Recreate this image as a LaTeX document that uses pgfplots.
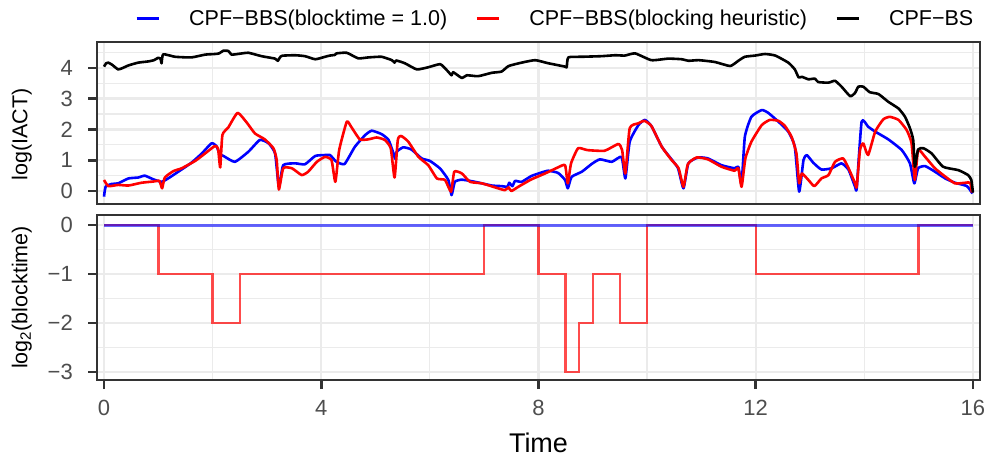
\documentclass[border=0pt]{standalone}
\usepackage{fontspec}
\setmainfont{Liberation Sans}
\usepackage{pgfplots}
\pgfplotsset{compat=1.18}

\definecolor{gridgrey}{HTML}{EBEBEB}
\definecolor{framegrey}{HTML}{333333}
\definecolor{ticktext}{HTML}{4D4D4D}

\newcommand\tickfont{\fontsize{22bp}{26bp}\selectfont}
\newcommand\labelfont{\fontsize{21.5bp}{26bp}\selectfont}
\newcommand\legendfont{\fontsize{21.5bp}{26bp}\selectfont}
\newcommand\timefont{\fontsize{27bp}{32bp}\selectfont}

\pgfplotsset{
  panel/.style={
    scale only axis,
    width=883bp,
    xmin=-0.129, xmax=16.13,
    xtick={0,4,8,12,16},
    minor xtick={2,6,10,14},
    tick pos=left,
    grid=both,
    major grid style={gridgrey, line width=2.4bp},
    minor grid style={gridgrey, line width=1.2bp},
    axis line style={framegrey, line width=1.8bp},
    tick align=outside,
    major tick length=9bp,
    minor tick length=0pt,
    every major tick/.append style={framegrey, line width=2.6bp},
    tick label style={font=\tickfont, text=ticktext, inner sep=0pt},
    yticklabel style={anchor=east, xshift=-15bp},
    xticklabel style={anchor=north, yshift=-11bp},
    /pgf/number format/assume math mode=true,
    ylabel style={font=\labelfont, anchor=center},
    curve/.style={line width=2.6bp, line join=round, smooth, tension=0.3},
  },
}

\begin{document}
\begin{tikzpicture}
\useasboundingbox (0bp,0bp) rectangle (987bp,-457bp);

% upper panel: integrated autocorrelation times
\begin{axis}[panel,
  at={(97bp,-204bp)}, anchor=south west,
  height=162bp,
  ymin=-0.42, ymax=4.84,
  ytick={0,1,2,3,4},
  minor ytick={0.5,1.5,2.5,3.5,4.5},
  xmajorticks=false,
  ylabel={log(IACT)},
  ylabel style={at={(axis description cs:-0.085,0.43)}},
  legend columns=3,
  legend style={draw=none, fill=none, font=\legendfont, inner sep=0pt,
    at={(axis description cs:0.043,1)}, anchor=south west, yshift=15bp,
    nodes={inner sep=0pt},
    /tikz/every odd column/.append style={column sep=29bp},
    /tikz/every even column/.append style={column sep=28bp}},
  legend image code/.code={\draw[#1, line width=3bp] (0bp,0bp) -- (22bp,0bp);},
]
\addplot[blue, curve] coordinates {
(0,-0.18)(0.03,0.14)(0.14,0.23)(0.26,0.25)(0.45,0.41)(0.63,0.44)(0.75,0.50)
(0.91,0.38)(1.06,0.30)(1.18,0.41)(1.37,0.63)(1.61,0.92)(1.80,1.22)(1.98,1.55)
(2.07,1.46)(2.13,1.20)(2.20,1.14)(2.41,0.95)(2.66,1.28)(2.87,1.66)(3.03,1.55)
(3.15,1.22)(3.22,0.14)(3.30,0.84)(3.52,0.90)(3.70,0.87)(3.89,1.14)(4.07,1.17)
(4.16,1.17)(4.22,1.06)(4.28,0.95)(4.43,0.88)(4.62,1.44)(4.81,1.82)(4.93,1.96)
(5.11,1.85)(5.24,1.66)(5.33,1.22)(5.36,1.05)(5.39,1.28)(5.51,1.42)(5.66,1.35)
(5.85,1.06)(6.00,0.98)(6.19,0.73)(6.34,0.36)(6.40,-0.13)(6.46,0.30)(6.59,0.37)
(6.83,0.30)(7.14,0.18)(7.32,0.16)(7.43,0.14)(7.46,0.27)(7.52,0.16)(7.57,0.33)
(7.69,0.30)(7.87,0.49)(8.05,0.60)(8.18,0.66)(8.36,0.59)(8.49,0.36)(8.54,0.09)
(8.61,0.46)(8.80,0.63)(8.98,0.88)(9.13,1.03)(9.35,0.95)(9.53,1.11)(9.60,0.41)
(9.68,1.60)(9.84,2.14)(9.96,2.31)(10.08,2.11)(10.27,1.44)(10.45,1.03)(10.57,0.74)
(10.67,0.09)(10.76,0.90)(10.94,1.09)(11.12,1.06)(11.37,0.84)(11.61,0.74)(11.68,0.79)
(11.74,0.25)(11.80,1.76)(11.92,2.41)(12.11,2.63)(12.23,2.54)(12.42,2.25)(12.60,1.93)
(12.72,1.44)(12.80,-0.02)(12.88,1.01)(12.94,1.17)(13.06,0.92)(13.21,0.70)(13.40,0.74)
(13.58,0.90)(13.71,0.69)(13.83,0.14)(13.86,0.09)(13.95,2.25)(14.07,2.09)(14.20,1.93)
(14.44,1.68)(14.69,1.33)(14.84,0.90)(14.92,0.25)(14.99,0.74)(15.12,0.81)(15.30,0.63)
(15.49,0.41)(15.67,0.27)(15.89,0.16)(15.99,-0.08)
};
\addlegendentry{CPF−BBS(blocktime = 1.0)}
\addplot[red, curve] coordinates {
(0,0.36)(0.08,0.16)(0.26,0.20)(0.45,0.18)(0.69,0.27)(0.91,0.31)(1.02,0.33)
(1.07,0.09)(1.12,0.44)(1.28,0.65)(1.43,0.74)(1.68,0.98)(1.86,1.22)(2.04,1.46)
(2.10,1.38)(2.14,0.77)(2.18,1.82)(2.29,2.07)(2.46,2.54)(2.63,2.22)(2.78,1.87)
(2.96,1.68)(3.12,1.39)(3.18,1.00)(3.22,0.05)(3.30,0.74)(3.46,0.74)(3.64,0.52)
(3.76,0.63)(3.92,0.95)(4.07,1.11)(4.19,1.00)(4.26,0.30)(4.33,1.33)(4.47,2.25)
(4.55,2.09)(4.71,1.68)(4.87,1.68)(5.02,1.74)(5.17,1.66)(5.28,1.39)(5.35,0.44)
(5.41,1.66)(5.47,1.79)(5.60,1.61)(5.79,1.11)(5.97,0.84)(6.13,0.41)(6.28,0.36)
(6.39,-0.02)(6.45,0.63)(6.59,0.57)(6.74,0.30)(6.96,0.25)(7.20,0.12)(7.38,0.03)
(7.45,0.12)(7.50,0.00)(7.63,0.14)(7.87,0.38)(8.12,0.57)(8.36,0.77)(8.49,0.84)
(8.54,0.25)(8.60,0.90)(8.73,1.39)(8.90,1.33)(9.22,1.31)(9.47,1.53)(9.54,1.33)
(9.60,0.57)(9.68,2.04)(9.84,2.20)(9.95,2.28)(10.08,2.11)(10.27,1.44)(10.45,1.01)
(10.58,0.74)(10.67,0.14)(10.75,0.87)(10.91,1.09)(11.12,1.03)(11.37,0.79)(11.61,0.66)
(11.68,0.74)(11.74,0.14)(11.81,1.06)(11.92,1.60)(12.11,2.14)(12.26,2.31)(12.42,2.28)
(12.54,2.11)(12.66,1.76)(12.75,1.22)(12.80,0.25)(12.85,0.57)(12.97,0.36)(13.08,0.16)
(13.21,0.41)(13.34,0.52)(13.46,0.95)(13.61,1.06)(13.71,0.74)(13.83,0.25)(13.86,0.14)
(13.92,1.33)(13.98,1.55)(14.07,1.17)(14.20,1.93)(14.35,2.33)(14.47,2.41)(14.63,2.31)
(14.78,1.98)(14.87,1.55)(14.93,0.36)(14.99,1.33)(15.12,1.11)(15.30,0.74)(15.49,0.47)
(15.67,0.25)(15.86,0.27)(15.95,0.27)(15.98,-0.05)
};
\addlegendentry{CPF−BBS(blocking heuristic)}
\addplot[black, curve] coordinates {
(0,4.04)(0.04,4.15)(0.08,4.17)(0.15,4.10)(0.26,3.95)(0.35,4.00)(0.45,4.08)
(0.63,4.17)(0.82,4.21)(0.92,4.25)(1.00,4.33)(1.04,4.30)(1.06,4.15)(1.09,4.44)
(1.31,4.36)(1.61,4.34)(1.86,4.43)(2.04,4.45)(2.12,4.47)(2.20,4.56)(2.29,4.55)
(2.35,4.43)(2.50,4.46)(2.66,4.49)(2.90,4.38)(3.15,4.30)(3.20,4.23)(3.27,4.39)
(3.52,4.41)(3.70,4.38)(3.89,4.28)(4.07,4.36)(4.16,4.40)(4.25,4.42)(4.28,4.47)
(4.47,4.49)(4.68,4.31)(4.87,4.34)(5.11,4.36)(5.30,4.25)(5.35,4.17)(5.38,4.24)
(5.54,4.15)(5.76,3.95)(5.97,4.02)(6.19,4.12)(6.31,3.93)(6.40,3.76)(6.43,3.86)
(6.59,3.67)(6.68,3.76)(6.89,3.73)(7.14,3.84)(7.32,3.88)(7.45,4.06)(7.69,4.17)
(7.94,4.25)(8.18,4.15)(8.49,4.04)(8.52,4.02)(8.55,4.34)(8.80,4.36)(9.16,4.38)
(9.41,4.41)(9.59,4.40)(9.78,4.47)(10.08,4.25)(10.39,4.30)(10.64,4.28)(10.76,4.23)
(10.95,4.25)(11.25,4.19)(11.53,4.06)(11.68,4.23)(11.80,4.36)(11.99,4.40)(12.17,4.45)
(12.36,4.40)(12.60,4.17)(12.72,3.95)(12.79,3.69)(12.85,3.71)(12.97,3.63)(13.09,3.65)
(13.15,3.54)(13.34,3.52)(13.46,3.58)(13.58,3.39)(13.74,3.08)(13.83,3.19)(13.89,3.39)
(13.98,3.39)(14.10,3.21)(14.26,3.15)(14.44,2.90)(14.63,2.68)(14.75,2.41)(14.84,2.04)
(14.90,1.66)(14.93,0.79)(14.99,1.35)(15.09,1.39)(15.24,1.22)(15.45,0.79)(15.73,0.68)
(15.91,0.52)(15.97,0.36)(16.00,-0.05)
};
\addlegendentry{CPF−BS}
\end{axis}

% lower panel: block lengths on a log2 scale
\begin{axis}[panel,
  at={(97bp,-380bp)}, anchor=south west,
  height=165bp,
  ymin=-3.163, ymax=0.204,
  ytick={-3,-2,-1,0},
  yticklabels={−3,−2,−1,0},
  minor ytick={-2.5,-1.5,-0.5},
  ylabel={log\textsubscript{2}(blocktime)},
  ylabel style={at={(axis description cs:-0.085,0.5)}},
  xlabel={Time},
  xlabel style={font=\timefont, at={(axis description cs:0.5,-0.38)},
    anchor=center},
]
\addplot[red, opacity=0.7, line width=2.4bp, const plot] coordinates {
(0,0)(1,-1)(2,-2)(2.5,-1)(7,0)(8,-1)(8.5,-3)(8.75,-2)(9,-1)(9.5,-2)(10,0)
(12,-1)(15,0)(16,0)
};
\addplot[blue, opacity=0.6, line width=3bp] coordinates {(0,0)(16,0)};
\end{axis}
\end{tikzpicture}
\end{document}
